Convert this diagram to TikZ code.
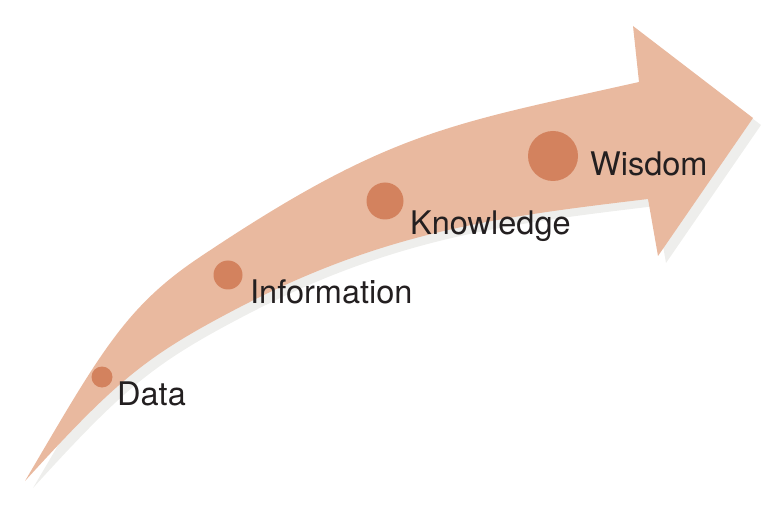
\documentclass[tikz,border=0pt]{standalone}
\usepackage{fontspec}
\setmainfont{TeX Gyre Heros}
\definecolor{arrowfill}{HTML}{E9B99F}
\definecolor{dotfill}{HTML}{D3825E}
\definecolor{shadowfill}{HTML}{EEEEEC}
\definecolor{labeltext}{HTML}{231F20}
\begin{document}
\begin{tikzpicture}[x=1pt,y=-1pt,
  dot/.style={circle,fill=dotfill,inner sep=0pt,draw=none},
  lbl/.style={anchor=base west,inner sep=0pt,text=labeltext,font=\fontsize{32.5}{36}\selectfont},
  arrowshape/.pic={
    \fill[#1] (25,481) .. controls (100,353.5) and (125,307) .. (200,257)
      .. controls (389,130.4) and (450,124.5) .. (639,82)
      -- (633,26) -- (753,118) -- (658,256) -- (648,199)
      .. controls (501,216.6) and (387,230.6) .. (240,307)
      .. controls (147,355.4) and (118,378.7) .. (25,481)
      -- cycle;
  }]
\useasboundingbox (0,0) rectangle (773,510);
\pic at (8,7) {arrowshape=shadowfill};
\pic at (0,0) {arrowshape=arrowfill};
\node[dot,minimum size=21pt] (d1) at (102,377) {};
\node[dot,minimum size=29pt] (d2) at (228,275) {};
\node[dot,minimum size=37pt] (d3) at (385,201) {};
\node[dot,minimum size=50pt] (d4) at (553,156) {};
\node[lbl] (l1) at (117,405) {Data};
\node[lbl] (l2) at (250,304) {Information};
\node[lbl] (l3) at (410,235) {Knowledge};
\node[lbl] (l4) at (590,176) {Wisdom};
\end{tikzpicture}
\end{document}
